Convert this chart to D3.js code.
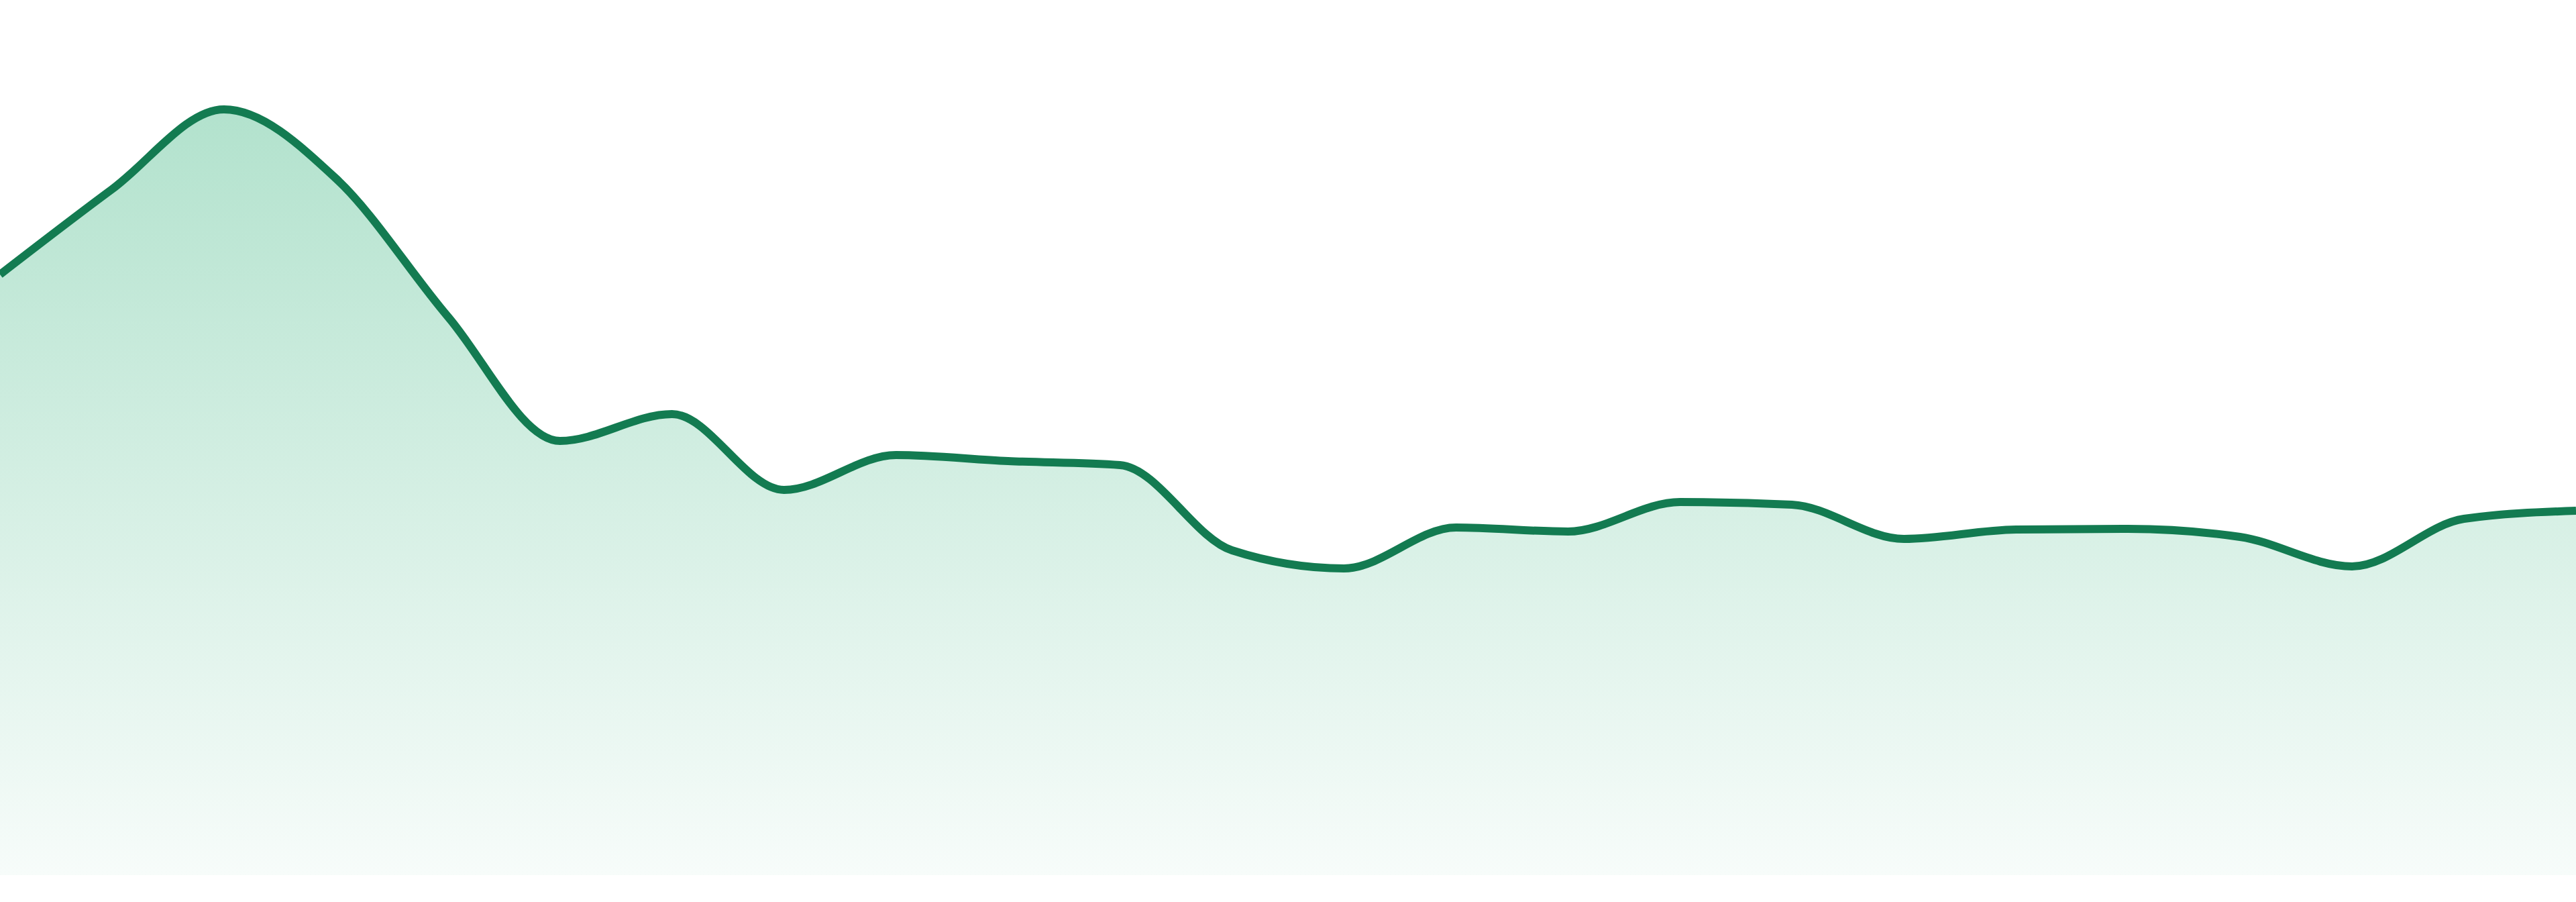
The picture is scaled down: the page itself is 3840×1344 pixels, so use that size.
<!DOCTYPE html>
<html>
<head>
<meta charset="utf-8">
<script src="https://cdn.jsdelivr.net/npm/d3@7"></script>
<style>
  html, body { margin: 0; padding: 0; background: #ffffff; overflow: hidden; }
  svg { display: block; }
</style>
</head>
<body>
<svg id="chart" width="3840" height="1344"></svg>
<script>
// Data (index of each point along the x axis, and its value)
const pointIndex = [0,1,2,3,4,5,6,7,8,9,10,11,12,13,14,15,16,17,18,19,20,21,22,23];
const seriesValues = [895,1022,1141,1038,832,647,687,574,626,617,611,484,457,518,512,556,552,501,515,516,504,460,531,543];
const valueDomain = [0, 1304];

const W = 3840, H = 1344;
const margin = { top: 0, right: 0, bottom: 40, left: 0 };
const svg = d3.select("#chart");

const x = d3.scaleLinear()
  .domain([0, pointIndex.length - 1])
  .range([margin.left, W - margin.right]);
const y = d3.scaleLinear()
  .domain(valueDomain)
  .range([H - margin.bottom, margin.top]);

const data = pointIndex.map((d, i) => ({ i: d, v: seriesValues[i] }));

const defs = svg.append("defs");
const grad = defs.append("linearGradient")
  .attr("id", "areaGrad")
  .attr("gradientUnits", "userSpaceOnUse")
  .attr("x1", 0).attr("x2", 0)
  .attr("y1", y(d3.max(seriesValues)))
  .attr("y2", y(0));
grad.append("stop").attr("offset", "0%").attr("stop-color", "#b2e2cd");
grad.append("stop").attr("offset", "100%").attr("stop-color", "#f7fcfa");

const area = d3.area()
  .x(d => x(d.i))
  .y0(y(0))
  .y1(d => y(d.v))
  .curve(d3.curveMonotoneX);

const line = d3.line()
  .x(d => x(d.i))
  .y(d => y(d.v))
  .curve(d3.curveMonotoneX);

svg.append("path")
  .datum(data)
  .attr("d", area)
  .attr("fill", "url(#areaGrad)");

svg.append("path")
  .datum(data)
  .attr("d", line)
  .attr("fill", "none")
  .attr("stroke", "#137b51")
  .attr("stroke-width", 12)
  .attr("stroke-linejoin", "round");
</script>
</body>
</html>
